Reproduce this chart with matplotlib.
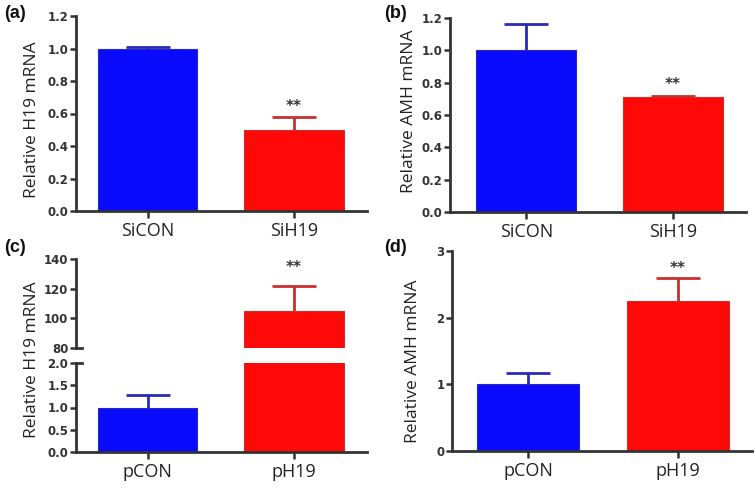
import matplotlib
matplotlib.use("Agg")
import matplotlib.pyplot as plt
import numpy as np

# ---- data ----
cats_ab = ["SiCON", "SiH19"]
h19_si = [1.0, 0.50]
h19_si_err = [0.01, 0.08]
amh_si = [1.0, 0.71]
amh_si_err = [0.165, 0.005]

cats_cd = ["pCON", "pH19"]
h19_p = [1.0, 105.0]
h19_p_err = [0.28, 17.0]
amh_p = [1.0, 2.25]
amh_p_err = [0.165, 0.35]

sig = ["", "**"]

yt_ab = [0.0, 0.2, 0.4, 0.6, 0.8, 1.0, 1.2]
yt_c_low = [0.0, 0.5, 1.0, 1.5, 2.0]
yt_c_high = [80, 100, 120, 140]
yt_d = [0, 1, 2, 3]

W, H = 756, 491
fig = plt.figure(figsize=(W / 100, H / 100), dpi=100)

BLUE = "#0a0aff"
RED = "#ff0808"
EBLUE = "#2a2ab8"
ERED = "#c83030"
AX = "#333333"
LBL = "Open Sans"


def px_axes(x0, x1, ytop, ybot):
    return fig.add_axes([x0 / W, 1 - ybot / H, (x1 - x0) / W, (ybot - ytop) / H])


def style(ax, yticks, fmt):
    for s in ["top", "right"]:
        ax.spines[s].set_visible(False)
    for s in ["left", "bottom"]:
        ax.spines[s].set_color(AX)
        ax.spines[s].set_linewidth(2)
    ax.set_yticks(yticks)
    ax.set_yticklabels([fmt.format(v) for v in yticks], fontsize=8.5,
                       fontweight="bold", color="#333333", family="DejaVu Sans")
    ax.tick_params(axis="y", direction="out", length=4, width=1.8, color=AX, pad=1.5)
    ax.tick_params(axis="x", direction="out", length=5, width=1.8, color=AX, pad=3)


def draw_bars(ax, vals, errs, cats, xlim, show_x=True, star_y=None):
    x = np.arange(len(vals))
    cols = [BLUE, RED]
    ecols = [EBLUE, ERED]
    for i in range(len(vals)):
        ax.bar(x[i], vals[i], width=0.68, color=cols[i], edgecolor=ecols[i],
               linewidth=0.8, zorder=2)
        eb = ax.errorbar(x[i], vals[i], yerr=[[0], [errs[i]]], fmt="none",
                         ecolor=ecols[i], elinewidth=2, capsize=16, capthick=2,
                         zorder=3)
        caps = eb[1]
        if len(caps) > 1:
            caps[0].set_visible(False)
        if sig[i] and star_y is not None:
            ax.text(x[i], star_y, sig[i], ha="center", va="center", fontsize=11,
                    fontweight="bold", color="#333333")
    ax.set_xlim(*xlim)
    if show_x:
        ax.set_xticks(x)
        ax.set_xticklabels(cats, fontsize=13, family=LBL, color="#222222")
    else:
        ax.set_xticks([])


# (a)
axa = px_axes(76, 367, 16, 211)
axa.set_ylim(0, 1.2)
draw_bars(axa, h19_si, h19_si_err, cats_ab, (-0.49, 1.5), star_y=0.645)
style(axa, yt_ab, "{:.1f}")

# (b)
axb = px_axes(450, 746, 18, 212)
axb.set_ylim(0, 1.2)
draw_bars(axb, amh_si, amh_si_err, cats_ab, (-0.52, 1.5), star_y=0.79)
style(axb, yt_ab, "{:.1f}")

# (c) broken axis
axc_hi = px_axes(76, 367, 259, 348)
axc_hi.set_ylim(80, 140)
draw_bars(axc_hi, h19_p, h19_p_err, cats_cd, (-0.49, 1.5), show_x=False, star_y=134.5)
style(axc_hi, yt_c_high, "{:d}")
axc_hi.spines["bottom"].set_visible(False)
axc_hi.plot([0, 0.02], [0, 0], transform=axc_hi.transAxes, color=AX, lw=2,
            clip_on=False)

axc_lo = px_axes(76, 367, 363, 452)
axc_lo.set_ylim(0, 2.0)
draw_bars(axc_lo, h19_p, h19_p_err, cats_cd, (-0.49, 1.5))
style(axc_lo, yt_c_low, "{:.1f}")
axc_lo.plot([0, 0.02], [1, 1], transform=axc_lo.transAxes, color=AX, lw=2,
            clip_on=False)

# (d)
axd = px_axes(452, 752, 251, 451)
axd.set_ylim(0, 3)
draw_bars(axd, amh_p, amh_p_err, cats_cd, (-0.51, 1.495), star_y=2.73)
style(axd, yt_d, "{:d}")

# y labels
for (xp, yp, t) in [(32, 120, "Relative H19 mRNA"), (409, 111, "Relative AMH mRNA"),
                    (32, 360, "Relative H19 mRNA"), (413, 361, "Relative AMH mRNA")]:
    fig.text(xp / W, 1 - yp / H, t, rotation=90, ha="center", va="center",
             fontsize=12.5, family=LBL, color="#222222")

# panel labels
for (xp, yp, t) in [(4, 13, "(a)"), (384, 13, "(b)"), (4, 248, "(c)"), (384, 248, "(d)")]:
    fig.text(xp / W, 1 - yp / H, t, ha="left", va="center", fontsize=13,
             fontweight="bold", family="Liberation Sans", color="#111111")

fig.savefig("out.png", dpi=100)
